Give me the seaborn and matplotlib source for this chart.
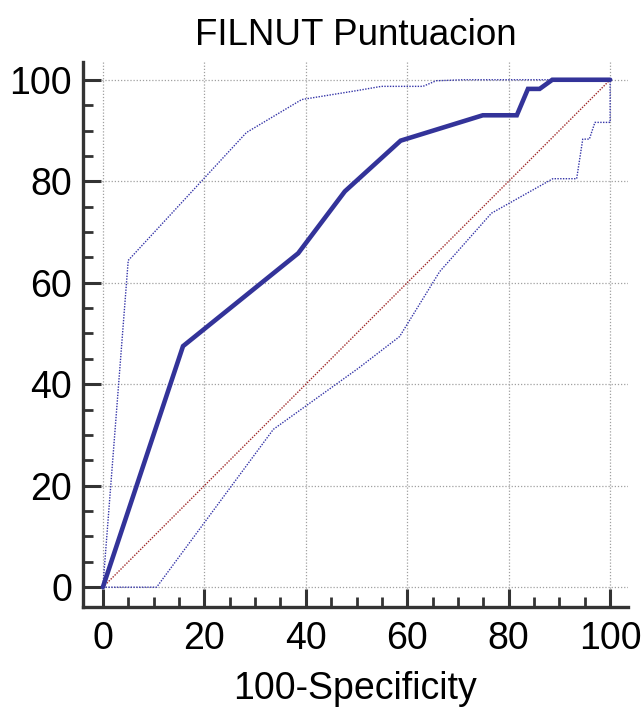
import numpy as np
import pandas as pd
import matplotlib
matplotlib.use("Agg")
import matplotlib.pyplot as plt
import seaborn as sns
from matplotlib.ticker import MultipleLocator

# ROC curve for the FILNUT score with its confidence band
roc_x = [0, 15.8, 38.5, 47.7, 58.7, 74.9, 81.6, 83.8, 86.1, 88.6, 100]
roc_y = [0, 47.5, 65.8, 78.0, 88.0, 93.0, 93.0, 98.2, 98.2, 100, 100]

upper_x = [0, 5.0, 28.3, 39.2, 50.3, 54.9, 63.1, 65.7, 71.0, 100]
upper_y = [0, 64.4, 89.6, 96.1, 97.9, 98.7, 98.7, 99.8, 100, 100]

lower_x = [0, 10.6, 33.6, 50.3, 58.5, 66.4, 76.6, 88.7, 93.4, 94.6, 95.9, 97.0, 100, 100]
lower_y = [0, 0, 31.1, 43.1, 49.4, 62.2, 73.7, 80.5, 80.5, 88.3, 88.3, 91.6, 91.6, 100]

diag_x = [0, 100]
diag_y = [0, 100]

x_ticks = [0, 20, 40, 60, 80, 100]
y_ticks = [0, 20, 40, 60, 80, 100]

sns.set_style("white")
plt.rcParams["font.family"] = ["Liberation Sans", "DejaVu Sans"]
plt.rcParams["text.color"] = "black"
plt.rcParams["axes.labelcolor"] = "black"

fig = plt.figure(figsize=(6.44, 7.11), dpi=100)
ax = fig.add_axes([0.129, 0.1463, 0.846, 0.7665])

ink = "#333333"
band_color = "#3535a8"
main_color = "#333399"
diag_color = "#a02828"

ax.grid(True, which="major", color="#a0a0a0", linestyle=(0, (1, 1.5)), linewidth=0.9)
ax.set_axisbelow(True)

def draw(xs, ys, **kw):
    df = pd.DataFrame({"x": xs, "y": ys})
    sns.lineplot(data=df, x="x", y="y", estimator=None, sort=False, ax=ax, **kw)

draw(diag_x, diag_y, color=diag_color, linewidth=1.0, linestyle=(0, (1, 1)))
draw(upper_x, upper_y, color=band_color, linewidth=1.0, linestyle=(0, (1, 1)))
draw(lower_x, lower_y, color=band_color, linewidth=1.0, linestyle=(0, (1, 1)))
draw(roc_x, roc_y, color=main_color, linewidth=3.3, solid_joinstyle="miter")

ax.set_xlim(-3.9, 103.5)
ax.set_ylim(-3.9, 103.5)
ax.set_xticks(x_ticks)
ax.set_yticks(y_ticks)
ax.xaxis.set_minor_locator(MultipleLocator(5))
ax.yaxis.set_minor_locator(MultipleLocator(5))

for side in ("top", "right"):
    ax.spines[side].set_visible(False)
for side in ("left", "bottom"):
    ax.spines[side].set_color(ink)
    ax.spines[side].set_linewidth(2.4)

ax.tick_params(which="both", bottom=True, left=True, top=False, right=False)
ax.tick_params(which="major", direction="in", length=13, width=2.2, color=ink,
               labelsize=27, labelcolor="black")
ax.tick_params(which="minor", direction="in", length=7, width=2.0, color=ink)
ax.tick_params(axis="x", which="major", pad=10)
ax.tick_params(axis="y", which="major", pad=8)

ax.set_xlabel("100-Specificity", fontsize=27, labelpad=10, color="black")
ax.set_ylabel("")
ax.set_title("FILNUT Puntuacion", fontsize=26.5, pad=12, color="black")

fig.savefig("out.png", dpi=100)
